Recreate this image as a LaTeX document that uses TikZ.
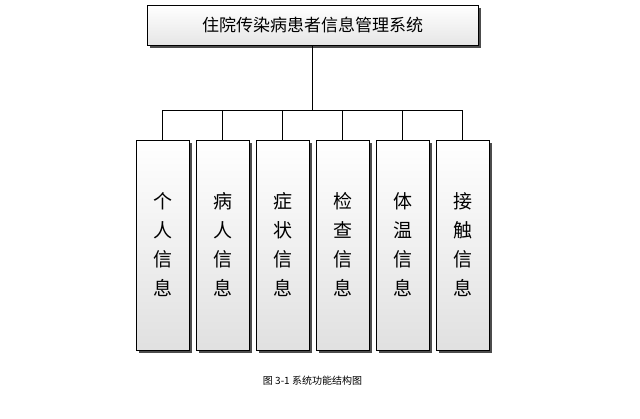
\documentclass[tikz,border=0pt]{standalone}
\usepackage{fontspec}
\newfontfamily\cjk{Noto Sans CJK SC}
\usetikzlibrary{shadows}
\begin{document}
\begin{tikzpicture}[x=1pt,y=-1pt,
  box/.style={draw=black,line width=0.8pt,fill=white,font=\cjk,
    drop shadow={shadow xshift=3pt,shadow yshift=-3pt,fill=black!70,opacity=1}},
  sub/.style={box,minimum width=53pt,minimum height=210pt,align=center,
    top color=white,bottom color=black!12,font=\cjk\fontsize{19}{29}\selectfont,inner sep=0pt},
  conn/.style={draw=black,line width=0.6pt}]
\useasboundingbox (0,0) rectangle (640,418);
\node[box,minimum width=331pt,minimum height=40pt,top color=white,bottom color=black!10,
  font=\cjk\fontsize{17}{20}\selectfont] (top) at (312.5,25) {住院传染病患者信息管理系统};
\coordinate (bus) at (312.5,110);
\foreach \i/\t in {1/个\\人\\信\\息,2/病\\人\\信\\息,3/症\\状\\信\\息,4/检\\查\\信\\息,5/体\\温\\信\\息,6/接\\触\\信\\息}{
  \node[sub] (s\i) at ({102.5+60*\i},245) {\t};
}
\draw[conn] (top.south) -- (bus);
\foreach \i in {1,...,6}{
  \draw[conn] (s\i.north) |- (bus);
}
\node[font=\cjk\fontsize{10}{12}\selectfont] (cap) at (312.5,381) {图 3-1 系统功能结构图};
\end{tikzpicture}
\end{document}
